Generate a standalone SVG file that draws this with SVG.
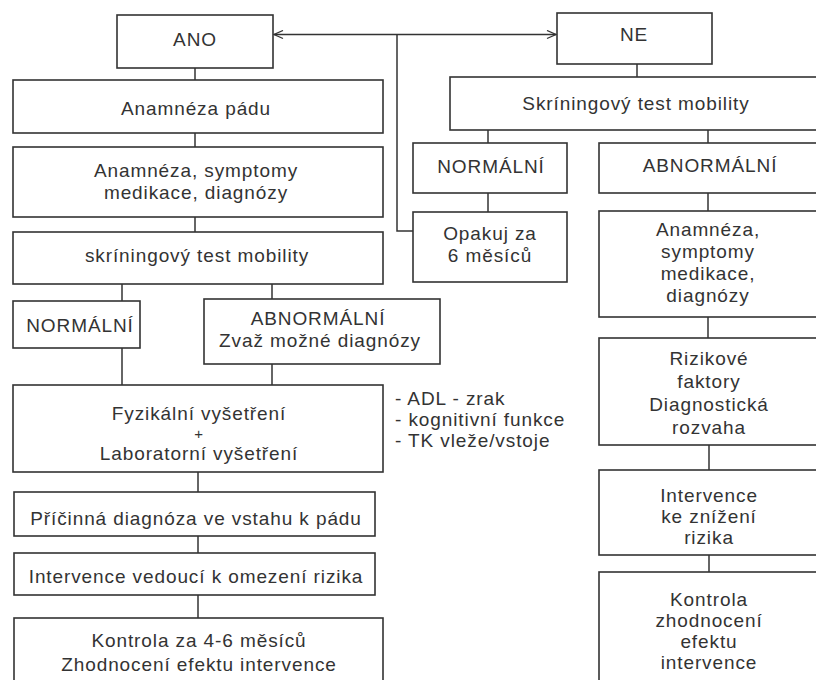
<svg xmlns="http://www.w3.org/2000/svg" width="816" height="680" viewBox="0 0 816 680">
<defs>
<style>
rect.b{fill:#fff;stroke:#333;stroke-width:1.6}
text{font-family:"Liberation Sans",Arial,sans-serif;font-size:19px;fill:#333;letter-spacing:0.9px;text-anchor:middle}
text.l{text-anchor:start}
text.p{font-size:15px}
.c line,.c polyline{stroke:#333;stroke-width:1.5;fill:none}
</style>
<marker id="arr" markerWidth="12" markerHeight="10" refX="10" refY="5" orient="auto-start-reverse" markerUnits="userSpaceOnUse">
<path d="M1,1 L10,5 L1,9" fill="none" stroke="#333" stroke-width="1.3"/>
</marker>
</defs>
<rect width="816" height="680" fill="#fff"/>
<g class="c" id="connectors">
<line x1="274" y1="34.5" x2="556" y2="34.5" marker-start="url(#arr)" marker-end="url(#arr)"/>
<polyline points="397,34.5 397,231 413,231"/>
<line x1="195" y1="68" x2="195" y2="80"/>
<line x1="195" y1="133" x2="195" y2="147"/>
<line x1="195" y1="217" x2="195" y2="232"/>
<line x1="122" y1="284" x2="122" y2="301"/>
<line x1="272" y1="284" x2="272" y2="299"/>
<line x1="122" y1="348" x2="122" y2="385"/>
<line x1="272" y1="364" x2="272" y2="385"/>
<line x1="198" y1="472" x2="198" y2="492"/>
<line x1="198" y1="536" x2="198" y2="553"/>
<line x1="198" y1="595" x2="198" y2="618"/>
<line x1="637" y1="64" x2="637" y2="77"/>
<line x1="488" y1="130" x2="488" y2="143"/>
<line x1="708" y1="130" x2="708" y2="143"/>
<line x1="488" y1="193" x2="488" y2="212"/>
<line x1="708" y1="193" x2="708" y2="211"/>
<line x1="708" y1="317" x2="708" y2="338"/>
<line x1="709" y1="445" x2="709" y2="470"/>
<line x1="709" y1="555" x2="709" y2="572"/>
</g>
<g id="ano"><rect class="b" x="117" y="15" width="156" height="53"/><text x="195" y="46">ANO</text></g>
<g id="ne"><rect class="b" x="557" y="13" width="155" height="51"/><text x="634" y="41">NE</text></g>
<g id="anamneza-padu"><rect class="b" x="13" y="80" width="370" height="53"/><text x="196" y="115">Anamnéza pádu</text></g>
<g id="anamneza-l"><rect class="b" x="13" y="147" width="370" height="70"/><text x="196" y="177">Anamnéza, symptomy</text><text x="196" y="199">medikace, diagnózy</text></g>
<g id="skrining-l"><rect class="b" x="13" y="232" width="370" height="52"/><text x="197" y="262">skríningový test mobility</text></g>
<g id="normalni-l"><rect class="b" x="13" y="301" width="127" height="47"/><text x="80" y="332">NORMÁLNÍ</text></g>
<g id="abnormalni-l"><rect class="b" x="204" y="299" width="236" height="65"/><text x="318" y="325">ABNORMÁLNÍ</text><text x="320" y="347">Zvaž možné diagnózy</text></g>
<g id="fyzikalni"><rect class="b" x="13" y="385" width="370" height="87"/><text x="199" y="420">Fyzikální vyšetření</text><text class="p" x="199" y="439">+</text><text x="199" y="460">Laboratorní vyšetření</text></g>
<g id="notes"><text class="l" x="395" y="405">- ADL - zrak</text><text class="l" x="395" y="426">- kognitivní funkce</text><text class="l" x="395" y="447">- TK vleže/vstoje</text></g>
<g id="pricinna"><rect class="b" x="14" y="492" width="361" height="44"/><text x="196" y="525">Příčinná diagnóza ve vstahu k pádu</text></g>
<g id="intervence-l"><rect class="b" x="14" y="553" width="361" height="42"/><text x="196" y="583">Intervence vedoucí k omezení rizika</text></g>
<g id="kontrola-l"><rect class="b" x="14" y="618" width="369" height="70"/><text x="199" y="647">Kontrola za 4-6 měsíců</text><text x="199" y="671">Zhodnocení efektu intervence</text></g>
<g id="skrining-r"><rect class="b" x="450" y="77" width="380" height="53"/><text x="636" y="110">Skríningový test mobility</text></g>
<g id="normalni-r"><rect class="b" x="413" y="143" width="154" height="50"/><text x="491" y="173">NORMÁLNÍ</text></g>
<g id="abnormalni-r"><rect class="b" x="599" y="143" width="230" height="50"/><text x="710" y="172">ABNORMÁLNÍ</text></g>
<g id="opakuj"><rect class="b" x="413" y="212" width="154" height="70"/><text x="490" y="240">Opakuj za</text><text x="490" y="262">6 měsíců</text></g>
<g id="anamneza-r"><rect class="b" x="599" y="211" width="230" height="106"/><text x="708" y="236">Anamnéza,</text><text x="708" y="258">symptomy</text><text x="708" y="280">medikace,</text><text x="708" y="302">diagnózy</text></g>
<g id="rizikove"><rect class="b" x="599" y="338" width="230" height="107"/><text x="709" y="365">Rizikové</text><text x="709" y="388">faktory</text><text x="709" y="411">Diagnostická</text><text x="709" y="434">rozvaha</text></g>
<g id="intervence-r"><rect class="b" x="599" y="470" width="230" height="85"/><text x="709" y="502">Intervence</text><text x="709" y="523">ke znížení</text><text x="709" y="544">rizika</text></g>
<g id="kontrola-r"><rect class="b" x="599" y="572" width="230" height="118"/><text x="709" y="606">Kontrola</text><text x="709" y="627">zhodnocení</text><text x="709" y="648">efektu</text><text x="709" y="669">intervence</text></g>
</svg>
